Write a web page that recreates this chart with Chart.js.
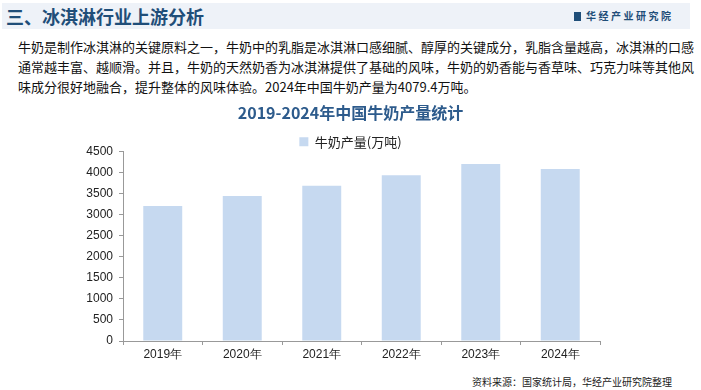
<!DOCTYPE html>
<html>
<head>
<meta charset="utf-8">
<script src="https://cdn.jsdelivr.net/npm/chart.js@4.4.1/dist/chart.umd.min.js"></script>
<style>
  body { margin: 0; width: 701px; height: 390px; background: #fff; position: relative; overflow: hidden;
         font-family: "Noto Sans CJK SC", "Microsoft YaHei", sans-serif; }
  #header { position: absolute; left: 2px; top: 3px; width: 688px; height: 26px; background: #eef2f8; }
  #header .t { position: absolute; left: 4px; top: 0; font-size: 18px; font-weight: bold; color: #1f4e79; line-height: 26px; }
  #header .logo { position: absolute; left: 572px; top: 0; font-size: 10px; font-weight: bold; color: #1f4e79; line-height: 26px; letter-spacing: 2.5px; }
  #header .logo b { display: inline-block; width: 7px; height: 9px; background: #1f4e79; margin-right: 5px; vertical-align: -1px; }
  #para { position: absolute; left: 18px; top: 37px; font-size: 13px; line-height: 20px; color: #111; white-space: nowrap; }
  #wrap { position: absolute; left: 0; top: 100px; width: 701px; height: 272px; }
  #src { position: absolute; left: 472px; top: 374px; font-size: 10px; color: #222; }
</style>
</head>
<body>
<div id="header"><div class="t">三、冰淇淋行业上游分析</div><div class="logo"><b></b>华经产业研究院</div></div>
<div id="para">
  <div>牛奶是制作冰淇淋的关键原料之一，牛奶中的乳脂是冰淇淋口感细腻、醇厚的关键成分，乳脂含量越高，冰淇淋的口感</div>
  <div>通常越丰富、越顺滑。并且，牛奶的天然奶香为冰淇淋提供了基础的风味，牛奶的奶香能与香草味、巧克力味等其他风</div>
  <div>味成分很好地融合，提升整体的风味体验。2024年中国牛奶产量为4079.4万吨。</div>
</div>
<div id="wrap"><canvas id="milkChart" width="701" height="272"></canvas></div>
<div id="src">资料来源：国家统计局，华经产业研究院整理</div>
<script>
// data
const years = ['2019年', '2020年', '2021年', '2022年', '2023年', '2024年'];
const milkOutput = [3201, 3440, 3683, 3932, 4197, 4079.4];
const yTicks = [0, 500, 1000, 1500, 2000, 2500, 3000, 3500, 4000, 4500];

const ctx = document.getElementById('milkChart').getContext('2d');

// legend box a bit shorter so the plot starts right under it
const tightLegend = {
    id: 'tightLegend',
    beforeLayout: function (chart) {
        const lg = chart.legend;
        if (!lg || lg._tight) return;
        const fit = lg.fit;
        lg.fit = function () {
            fit.call(this);
            this.height -= 7;
        };
        lg._tight = true;
    }
};

const milkChart = new Chart(ctx, {
    type: 'bar',
    data: {
        labels: years,
        datasets: [{
            label: '牛奶产量(万吨)',
            data: milkOutput,
            backgroundColor: '#c6d9f0',
            barPercentage: 0.49,
            categoryPercentage: 1
        }]
    },
    options: {
        responsive: false,
        animation: false,
        layout: { padding: { left: 0, right: 0, top: 3, bottom: 0 } },
        scales: {
            x: {
                grid: { display: true, drawOnChartArea: false, drawTicks: true, tickLength: 4, color: '#999' },
                border: { color: '#999' },
                ticks: { color: '#222', font: { family: 'Liberation Sans, Arial', size: 12 }, padding: 2 },
                afterFit: function (scale) { scale.height = 31; }
            },
            y: {
                min: 0,
                max: 4500,
                afterBuildTicks: function (scale) { scale.ticks = yTicks.map(v => ({ value: v })); },
                grid: { display: true, drawOnChartArea: false, drawTicks: true, tickLength: 4, color: '#999' },
                border: { color: '#999' },
                ticks: {
                    color: '#222',
                    font: { family: 'Liberation Sans, Arial', size: 12 },
                    padding: 6,
                    callback: function (v) { return String(v); }
                },
                afterFit: function (scale) { scale.width = 123; }
            },
            // empty right-hand space so the title sits centred on the page
            spacer: {
                position: 'right',
                grid: { display: false },
                border: { display: false },
                ticks: { display: false },
                afterFit: function (scale) { scale.width = 101; }
            }
        },
        plugins: {
            title: {
                display: true,
                text: '2019-2024年中国牛奶产量统计',
                color: '#2d5b8c',
                font: { family: 'Noto Sans CJK SC', size: 16, weight: 'bold' },
                padding: { top: 0, bottom: 11 }
            },
            legend: {
                display: true,
                labels: {
                    boxWidth: 9,
                    boxHeight: 9,
                    color: '#222',
                    font: { family: 'Noto Sans CJK SC', size: 13 },
                    padding: 2
                }
            },
            tooltip: { enabled: false }
        }
    },
    plugins: [tightLegend]
});
</script>
</body>
</html>
